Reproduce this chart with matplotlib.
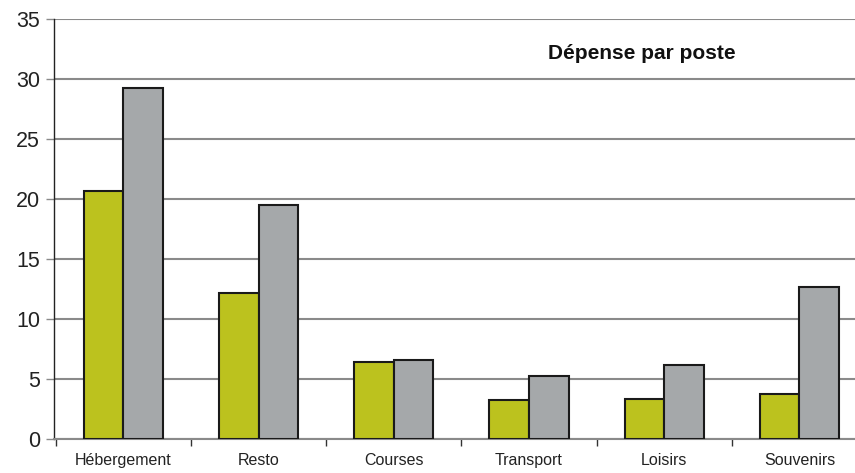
import matplotlib
matplotlib.use("Agg")
import matplotlib.pyplot as plt
import numpy as np

categories = ["Hébergement", "Resto", "Courses", "Transport", "Loisirs", "Souvenirs"]
series_green = [20.7, 12.2, 6.4, 3.25, 3.35, 3.75]
series_grey = [29.25, 19.5, 6.6, 5.25, 6.2, 12.7]
yticks = [0, 5, 10, 15, 20, 25, 30, 35]
title = "Dépense par poste"

plt.rcParams['font.family'] = ['Liberation Sans', 'DejaVu Sans']

fig = plt.figure(figsize=(8.55, 4.73), dpi=100)
ax = fig.add_axes([54/855, 1 - 439/473, 813/855, 420/473])

x = np.arange(len(categories))
w = 0.293
ax.bar(x - w/2, series_green, width=w, color="#bcc21e", edgecolor="#1a1a1a", linewidth=1.5, zorder=3)
ax.bar(x + w/2, series_grey, width=w, color="#a5a8aa", edgecolor="#1a1a1a", linewidth=1.5, zorder=3)

ax.set_xlim(-0.514, len(categories) - 0.5)
ax.set_ylim(0, 35)
ax.set_yticks(yticks)
ax.set_yticklabels([str(v) for v in yticks], fontsize=15.5, color="#222222")
ax.yaxis.grid(True, color="#8a8a8a", linewidth=1.5, zorder=0)
ax.set_axisbelow(True)

ax.set_xticks(x)
ax.set_xticklabels(categories, fontsize=11.5, color="#222222")
ax.tick_params(axis='x', length=0, pad=10)
ax.set_xticks(np.arange(len(categories) + 1) - 0.5, minor=True)
ax.tick_params(axis='x', which='minor', length=5, width=1, color="#333333")
ax.tick_params(axis='y', length=6, width=1, color="#8a8a8a", pad=4)

for s in ["top", "right"]:
    ax.spines[s].set_visible(False)
ax.spines["left"].set_color("#222222")
ax.spines["left"].set_linewidth(1)
ax.spines["bottom"].set_color("#8a8a8a")
ax.spines["bottom"].set_linewidth(1.5)

fig.text(642/855, 1 - 53/473, title, fontsize=15, fontweight="bold", ha="center", va="center", color="#111111")

fig.savefig("out.png", dpi=100)
